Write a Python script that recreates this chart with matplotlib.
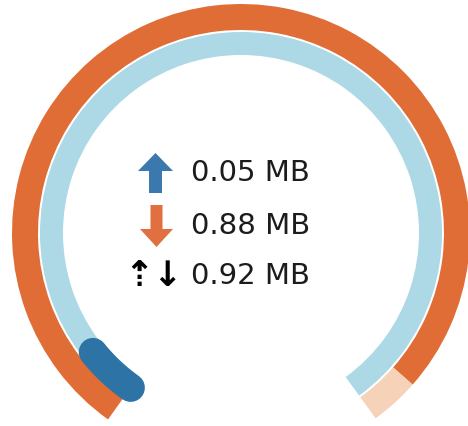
import numpy as np
import matplotlib.pyplot as plt
from matplotlib.patches import Wedge, FancyArrow

# traffic values (MB)
upload = 0.05
download = 0.88
total = 0.92
labels = ["0.05 MB", "0.88 MB", "0.92 MB"]

# gauge geometry (pixel units, y up)
cx, cy = 241, 193
start_deg, sweep_deg = 234.5, 288.5
end_deg = start_deg - sweep_deg

orange = "#E06C36"
peach = "#F6D2B8"
light_blue = "#ADD8E6"
dark_blue = "#2E73A6"

fig = plt.figure(figsize=(4.68, 4.26), dpi=100)
ax = fig.add_axes([0, 0, 1, 1])
ax.set_xlim(0, 468)
ax.set_ylim(0, 426)
ax.set_aspect("equal")
ax.axis("off")

# outer ring: download share of total
down_deg = start_deg - sweep_deg * download / total
ax.add_patch(Wedge((cx, cy), 229, down_deg, start_deg, width=26, color=orange, lw=0))
ax.add_patch(Wedge((cx, cy), 229, end_deg, down_deg, width=26, color=peach, lw=0))

# inner ring: track + upload share
ax.add_patch(Wedge((cx, cy), 201, end_deg, start_deg, width=23, color=light_blue, lw=0))
up_deg = start_deg - sweep_deg * upload / total
th = np.radians(np.linspace(start_deg, up_deg, 60))
ax.plot(cx + 190 * np.cos(th), cy + 190 * np.sin(th), color=dark_blue,
        lw=20.5, solid_capstyle="round")

# centre legend
rows_y = [426 - 173, 426 - 226, 426 - 276]
for y, lab in zip(rows_y, labels):
    ax.text(191, y, lab, fontsize=21, color="#1c1c1c", va="center", ha="left",
            family="DejaVu Sans")

ax.add_patch(FancyArrow(155.5, rows_y[0] - 20, 0, 40, width=13, head_width=35,
                        head_length=18, length_includes_head=True,
                        color="#3B78AE", lw=0))
ax.add_patch(FancyArrow(156.5, rows_y[1] + 21, 0, -42, width=12, head_width=33,
                        head_length=18, length_includes_head=True,
                        color="#E0703F", lw=0))
ax.text(153, rows_y[2], "\u21e1\u2193", fontsize=25, fontweight="bold",
        color="black", va="center", ha="center", family="DejaVu Sans")

fig.savefig("out.png", dpi=100)
